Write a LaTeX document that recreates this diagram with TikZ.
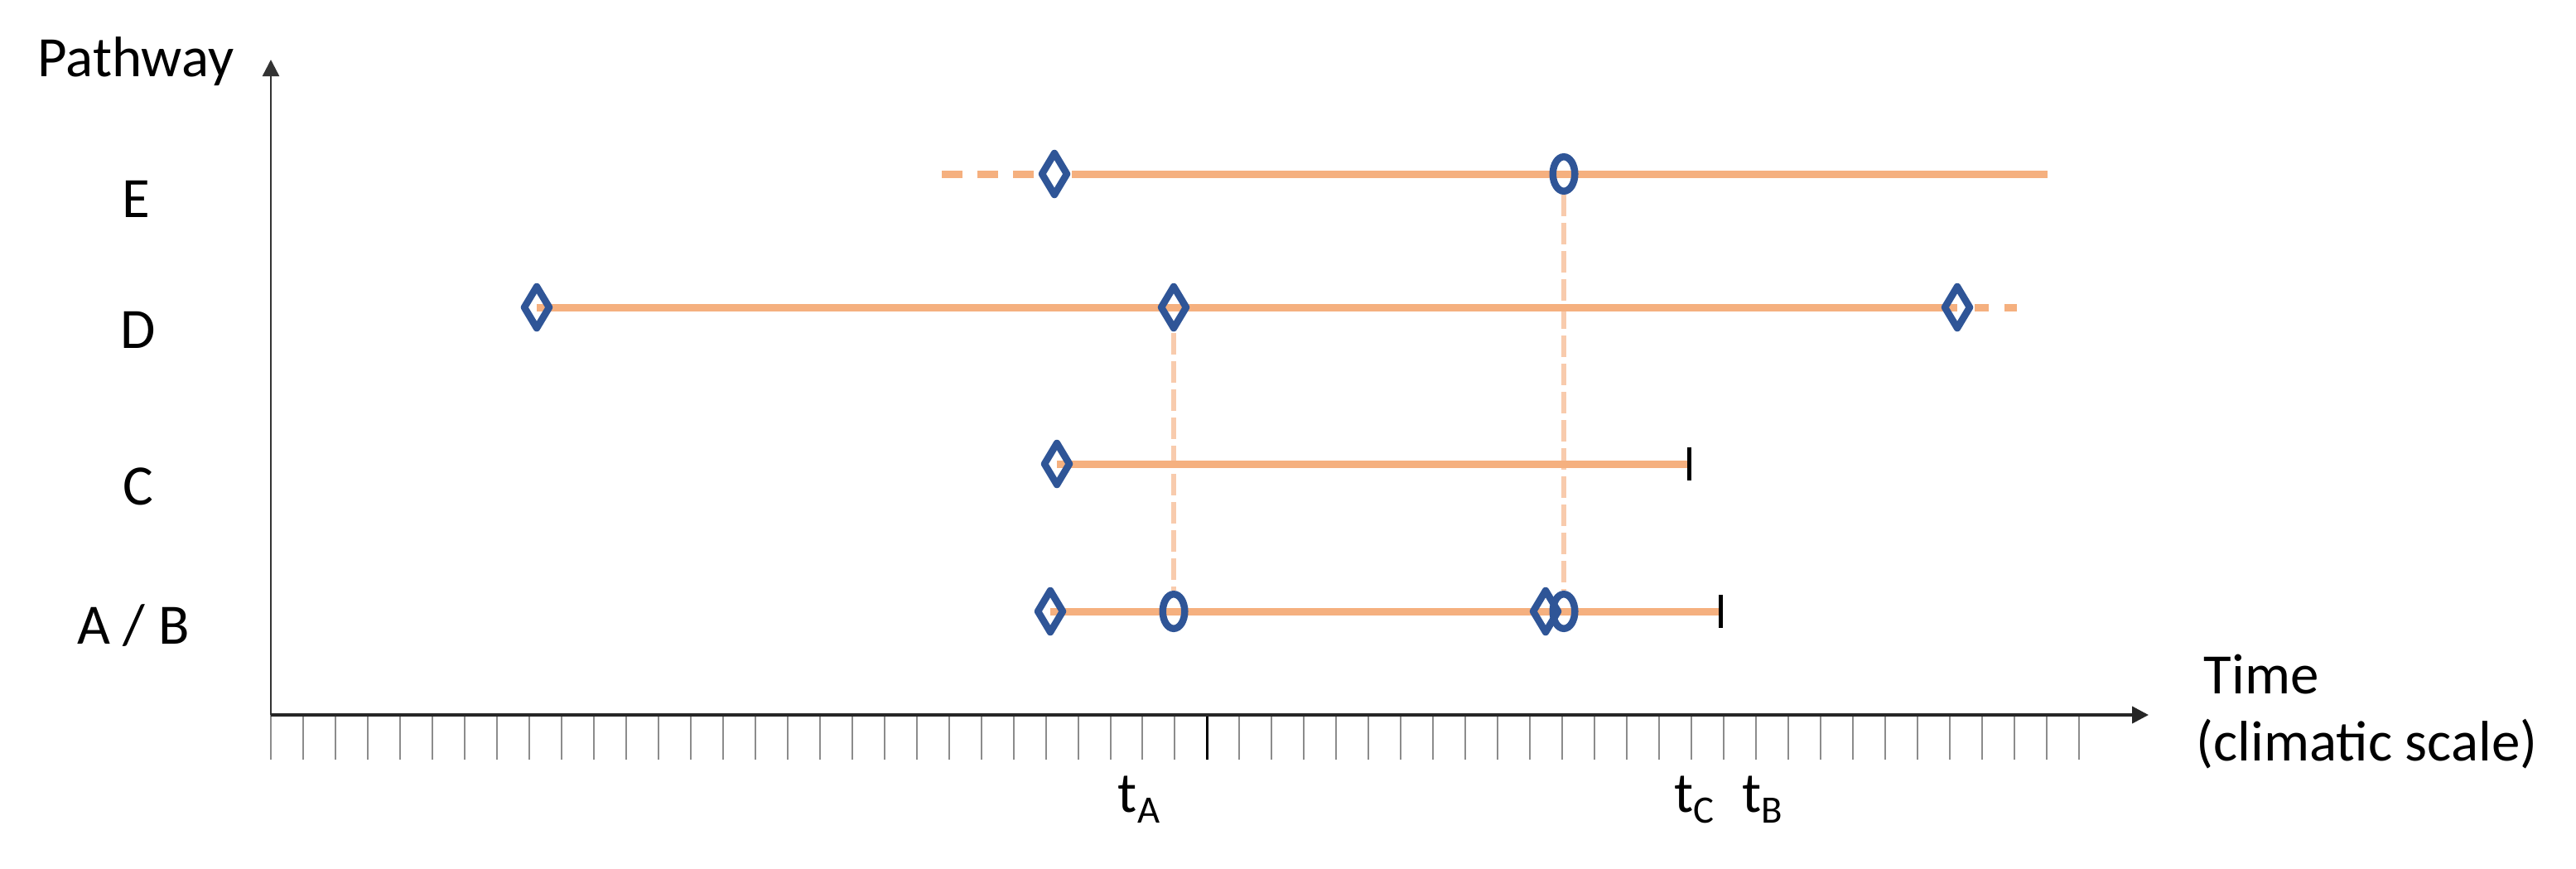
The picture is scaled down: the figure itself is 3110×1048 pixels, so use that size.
\documentclass[tikz,border=0pt]{standalone}
\usepackage{fontspec}
\setmainfont{Carlito}
\usetikzlibrary{shapes.geometric,arrows.meta,backgrounds}
\definecolor{lineor}{HTML}{F5B07F}
\definecolor{vdash}{HTML}{F8CBAD}
\definecolor{mkblue}{HTML}{2F5597}
\begin{document}
\begin{tikzpicture}[x=0.01cm,y=-0.01cm,
  lbl/.style={font=\fontsize{19.6}{23}\selectfont, inner sep=0pt, text=black},
  dmd/.style={diamond, draw=mkblue, line width=0.085cm, line join=round, minimum width=0.335cm, minimum height=0.535cm, inner sep=0pt},
  ell/.style={ellipse, draw=mkblue, line width=0.085cm, minimum width=0.265cm, minimum height=0.415cm, inner sep=0pt},
  endbar/.style={rectangle, fill=black, minimum width=0.05cm, minimum height=0.4cm, inner sep=0pt},
  bar/.style={line width=0.09cm, draw=lineor},
  vd/.style={line width=0.06cm, draw=vdash, dash pattern=on 0.26cm off 0.08cm},
  tickst/.style={line width=0.02cm, draw=black!45},
  axisy/.style={line width=0.025cm, draw=black!80, -{Triangle[width=0.2cm,length=0.2cm]}},
  axisx/.style={line width=0.04cm, draw=black!85, -{Triangle[width=0.2cm,length=0.2cm]}}
]
\useasboundingbox (0,0) rectangle (3110,1048);

% ticks
\foreach \i in {0,...,56} {
  \ifnum\i=29
    \draw[line width=0.022cm, draw=black] ({327+\i*38.98},863) -- ++(0,54);
  \else
    \draw[tickst] ({327+\i*38.98},863) -- ++(0,54);
  \fi
}

% axes
\coordinate (O) at (327,863);
\coordinate (ytip) at (327,72);
\coordinate (xtip) at (2594,863);
\draw[axisy] (O) -- (ytip);
\draw[axisx] (O) -- (xtip);

% labels
\node[lbl, anchor=base] (pw) at (164,92) {Pathway};
\node[lbl, anchor=base] (lE) at (164,262) {E};
\node[lbl, anchor=base] (lD) at (167,420) {D};
\node[lbl, anchor=base] (lC) at (167,609) {C};
\node[lbl, anchor=base] (lAB) at (161,777) {A / B};
\node[lbl, anchor=base west] (time) at (2660,837) {Time};
\node[lbl, anchor=base west] (clim) at (2651,918) {(climatic scale)};
\node[lbl, anchor=base] (tA) at (1375,980) {t\raisebox{-0.13cm}{\fontsize{13.3}{14}\selectfont A}};
\node[lbl, anchor=base] (tC) at (2045,980) {t\raisebox{-0.13cm}{\fontsize{13.3}{14}\selectfont C}};
\node[lbl, anchor=base] (tB) at (2128,980) {t\raisebox{-0.13cm}{\fontsize{13.3}{14}\selectfont B}};

% markers
\coordinate (e0) at (1137,210);
\node[dmd] (e1) at (1273,210) {};
\node[ell] (e2) at (1888,210) {};
\coordinate (e3) at (2472,210);

\node[dmd] (d1) at (648,371) {};
\node[dmd] (d2) at (1417,371) {};
\node[dmd] (d3) at (2363,371) {};
\coordinate (d4) at (2435,371);

\node[dmd] (c1) at (1276,560) {};
\node[endbar] (ct) at (2039,560) {};

\node[dmd] (a1) at (1268,738) {};
\node[ell] (a2) at (1417,738) {};
\node[dmd] (a3) at (1866,738) {};
\node[ell] (a4) at (1888,738) {};
\node[endbar] (abt) at (2077,738) {};

% connectors behind markers
\begin{scope}[on background layer]
  \draw[vd] (d2.south) -- (a2.north);
  \draw[vd] (e2.south) -- (a4.north);
  \draw[bar, dash pattern=on 0.25cm off 0.18cm] (e0) -- (e1.west);
  \draw[bar] (e1.east) -- (e3);
  \draw[bar] (d1.center) -- (d3.center);
  \draw[bar, dash pattern=on 0.17cm off 0.19cm] (d3.east) -- (d4);
  \draw[bar] (c1.center) -- (ct.center);
  \draw[bar] (a1.center) -- (abt.center);
\end{scope}
\end{tikzpicture}
\end{document}
